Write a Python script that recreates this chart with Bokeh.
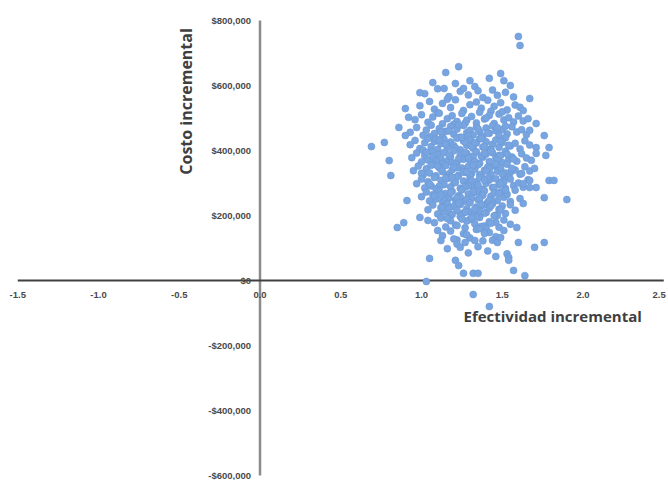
from math import pi
from bokeh.plotting import figure
from bokeh.models import Label
from bokeh.embed import file_html
from bokeh.resources import INLINE

x_ticks = [-1.5, -1.0, -0.5, 0.0, 0.5, 1.0, 1.5, 2.0, 2.5]
x_tick_labels = ["-1.5", "-1.0", "-0.5", "0.0", "0.5", "1.0", "1.5", "2.0", "2.5"]
y_ticks = [-600000, -400000, -200000, 0, 200000, 400000, 600000, 800000]
y_tick_labels = ["-$600,000", "-$400,000", "-$200,000", "$0", "$200,000",
                 "$400,000", "$600,000", "$800,000"]

# incremental effectiveness of the simulations (dense cloud, read band by band)
eff_core = [
    1.02, 1.10, 1.17, 1.24, 1.29, 1.33, 1.38, 1.44, 1.47, 1.52, 1.57, 1.35,
    0.99, 1.05, 1.08, 1.13, 1.18, 1.21, 1.26, 1.30, 1.34, 1.37, 1.41, 1.45, 1.49, 1.53, 1.58, 1.61, 1.16, 1.43,
    0.96, 1.00, 1.04, 1.07, 1.10, 1.13, 1.16, 1.19, 1.22, 1.25, 1.28, 1.31, 1.34, 1.36, 1.39, 1.42, 1.45, 1.48,
    1.51, 1.54, 1.57, 1.60, 1.63, 1.11, 1.27, 1.40, 1.50, 1.20,
    0.93, 0.97, 1.01, 1.03, 1.06, 1.08, 1.11, 1.13, 1.15, 1.18, 1.20, 1.22, 1.24, 1.26, 1.28, 1.30, 1.32, 1.34,
    1.36, 1.38, 1.40, 1.42, 1.44, 1.46, 1.48, 1.50, 1.53, 1.56, 1.59, 1.62, 1.65, 1.05, 1.17, 1.23, 1.29, 1.35,
    1.41, 1.47, 1.52, 1.12,
    0.93, 0.96, 0.99, 1.02, 1.04, 1.06, 1.08, 1.10, 1.12, 1.14, 1.16, 1.18, 1.20, 1.22, 1.24, 1.26, 1.28, 1.30,
    1.32, 1.34, 1.36, 1.38, 1.40, 1.42, 1.44, 1.46, 1.48, 1.50, 1.52, 1.55, 1.58, 1.61, 1.64, 1.67, 1.01, 1.09,
    1.15, 1.21, 1.27, 1.31, 1.37, 1.43, 1.49, 1.54, 1.11, 1.25, 1.39, 1.33,
    0.94, 0.97, 1.00, 1.02, 1.04, 1.06, 1.08, 1.10, 1.12, 1.14, 1.16, 1.18, 1.20, 1.22, 1.24, 1.26, 1.28, 1.30,
    1.32, 1.34, 1.36, 1.38, 1.40, 1.42, 1.44, 1.46, 1.48, 1.50, 1.52, 1.54, 1.56, 1.59, 1.62, 1.65, 1.68, 1.03,
    1.07, 1.13, 1.17, 1.23, 1.27, 1.33, 1.37, 1.43, 1.47, 1.53, 1.19, 1.29, 1.39, 1.09, 1.49, 1.57,
    0.95, 0.98, 1.01, 1.03, 1.05, 1.07, 1.09, 1.11, 1.13, 1.15, 1.17, 1.19, 1.21, 1.23, 1.25, 1.27, 1.29, 1.31,
    1.33, 1.35, 1.37, 1.39, 1.41, 1.43, 1.45, 1.47, 1.49, 1.51, 1.53, 1.55, 1.58, 1.61, 1.64, 1.67, 1.00, 1.06,
    1.12, 1.16, 1.22, 1.26, 1.32, 1.36, 1.42, 1.46, 1.52, 1.20, 1.30, 1.40, 1.10, 1.50, 1.56, 1.28,
    0.97, 1.00, 1.02, 1.04, 1.06, 1.08, 1.10, 1.12, 1.14, 1.16, 1.18, 1.20, 1.22, 1.24, 1.26, 1.28, 1.30, 1.32,
    1.34, 1.36, 1.38, 1.40, 1.42, 1.44, 1.46, 1.48, 1.50, 1.52, 1.54, 1.57, 1.60, 1.63, 1.66, 1.05, 1.11, 1.15,
    1.21, 1.25, 1.31, 1.35, 1.41, 1.45, 1.51, 1.19, 1.29, 1.39, 1.09, 1.49, 1.55, 1.27,
    1.00, 1.03, 1.05, 1.07, 1.09, 1.11, 1.13, 1.15, 1.17, 1.19, 1.21, 1.23, 1.25, 1.27, 1.29, 1.31, 1.33, 1.35,
    1.37, 1.39, 1.41, 1.43, 1.45, 1.47, 1.49, 1.51, 1.53, 1.55, 1.58, 1.61, 1.08, 1.14, 1.18, 1.24, 1.28, 1.34,
    1.38, 1.44, 1.48, 1.22, 1.32, 1.42, 1.12, 1.52, 1.36,
    1.04, 1.07, 1.10, 1.12, 1.14, 1.16, 1.18, 1.20, 1.22, 1.24, 1.26, 1.28, 1.30, 1.32, 1.34, 1.36, 1.38, 1.40,
    1.42, 1.44, 1.46, 1.48, 1.50, 1.52, 1.55, 1.58, 1.13, 1.19, 1.23, 1.29, 1.33, 1.39, 1.43, 1.49, 1.27, 1.37,
    1.17, 1.47,
    1.08, 1.12, 1.15, 1.18, 1.21, 1.24, 1.27, 1.30, 1.33, 1.36, 1.39, 1.42, 1.45, 1.48, 1.51, 1.55, 1.16, 1.22,
    1.28, 1.34, 1.40, 1.46, 1.25, 1.37, 1.31, 1.43,
    1.13, 1.18, 1.22, 1.26, 1.30, 1.34, 1.38, 1.42, 1.46, 1.51, 1.20, 1.28, 1.36, 1.44,
    1.16, 1.22, 1.29, 1.35, 1.41, 1.47, 1.53,
]
# incremental cost, thousands of dollars, same order as eff_core
cost_core_k = [
    575, 590, 566, 582, 571, 597, 563, 586, 570, 579, 565, 584,
    538, 551, 527, 545, 532, 556, 523, 541, 549, 530, 555, 536, 547, 525, 540, 533, 558, 521,
    495, 510, 487, 503, 516, 482, 498, 507, 489, 514, 493, 505, 485, 518, 497, 508, 483, 512,
    494, 501, 488, 506, 491, 515, 484, 500, 519, 481,
    456, 471, 447, 463, 478, 452, 468, 443, 459, 474, 450, 466, 441, 477, 455, 462, 448, 472,
    458, 444, 469, 453, 476, 461, 446, 465, 451, 473, 457, 464, 449, 442, 460, 479, 445, 467,
    454, 470, 475, 458,
    418, 431, 406, 424, 437, 412, 428, 403, 421, 434, 409, 426, 415, 438, 402, 429, 416, 433,
    407, 423, 436, 411, 427, 404, 419, 432, 410, 425, 439, 414, 422, 405, 430, 417, 401, 435,
    420, 408, 426, 413, 437, 403, 429, 416, 431, 440, 411, 424,
    378, 392, 365, 384, 371, 397, 362, 388, 375, 394, 368, 381, 399, 364, 386, 373, 391, 369,
    383, 396, 361, 379, 389, 366, 393, 376, 385, 363, 398, 372, 380, 367, 390, 377, 370, 395,
    382, 360, 387, 374, 394, 366, 383, 398, 371, 389, 362, 377, 392, 368, 385, 374,
    338, 352, 325, 344, 331, 357, 322, 348, 335, 354, 328, 341, 359, 324, 346, 333, 351, 329,
    343, 356, 321, 339, 349, 326, 353, 336, 345, 323, 358, 332, 340, 327, 350, 337, 330, 355,
    342, 320, 347, 334, 354, 326, 343, 358, 331, 349, 322, 337, 352, 328, 345, 334,
    298, 312, 285, 304, 291, 317, 282, 308, 295, 314, 288, 301, 319, 284, 306, 293, 311, 289,
    303, 316, 281, 299, 309, 286, 313, 296, 305, 283, 318, 292, 300, 287, 310, 297, 290, 315,
    302, 280, 307, 294, 314, 286, 303, 318, 291, 309, 282, 297, 312, 288,
    258, 272, 245, 264, 251, 277, 242, 268, 255, 274, 248, 261, 279, 244, 266, 253, 271, 249,
    263, 276, 241, 259, 269, 246, 273, 256, 265, 243, 278, 252, 260, 247, 270, 257, 250, 275,
    262, 240, 267, 254, 274, 246, 263, 278, 251,
    218, 232, 205, 224, 211, 237, 202, 228, 215, 234, 208, 221, 239, 204, 226, 213, 231, 209,
    223, 236, 201, 219, 229, 206, 233, 216, 225, 203, 238, 212, 220, 207, 230, 217, 210, 235,
    222, 200,
    178, 192, 165, 184, 171, 197, 162, 188, 175, 194, 168, 181, 199, 164, 186, 173, 191, 169,
    183, 196, 161, 179, 189, 166, 193, 176,
    138, 152, 125, 144, 131, 157, 122, 148, 135, 154, 128, 141, 159, 124,
    98, 112, 85, 104, 91, 117, 82,
]
# scattered simulations around the cloud
eff_outer = [
    1.60, 1.61, 1.23, 1.15, 1.49, 1.07, 1.51, 1.30, 1.21, 1.14, 1.26, 1.42, 1.55, 0.99, 1.67,
    0.90, 0.92, 0.86, 0.90, 0.69, 0.77, 0.80, 1.63, 1.66, 1.71, 1.76, 1.79, 1.71, 1.67, 0.81,
    0.91, 0.89, 0.85, 0.99, 1.04, 1.05, 1.21, 1.23, 1.26, 1.32, 1.35, 1.03, 1.46, 1.54, 1.54,
    1.57, 1.64, 1.60, 1.70, 1.76, 1.90, 1.76, 1.79, 1.77, 1.10, 1.12, 1.27, 1.24, 1.33, 1.39,
    1.49, 1.59, 1.63, 1.71, 1.63, 1.62, 1.32, 1.42, 1.82, 1.67, 1.70, 1.71, 1.67,
]
cost_outer_k = [
    751, 723, 658, 640, 637, 609, 615, 615, 606, 591, 591, 622, 600, 578, 560,
    529, 502, 471, 446, 412, 425, 369, 523, 498, 483, 446, 409, 409, 462, 323,
    246, 178, 163, 194, 185, 68, 62, 46, 22, 22, 22, -3, 74, 71, 62,
    31, 15, 117, 102, 117, 249, 255, 308, 385, 154, 123, 117, 102, 123, 145,
    132, 163, 237, 286, 298, 329, -43, -80, 308, 286, 345, 391, 308,
]

eff = eff_core + eff_outer
cost = [v * 1000 for v in cost_core_k + cost_outer_k]

# frame = whole canvas; px scale: 161.5 px per unit in x, 3077 $ per px in y
W, H = 668, 480
x0_px, xs = 259.5, 161.5
y0_px, ys = 280.0, 3077.0
p = figure(width=W, height=H,
           x_range=(-x0_px / xs, (W - x0_px) / xs),
           y_range=(-(H - y0_px) * ys, y0_px * ys),
           x_axis_type=None, y_axis_type=None, output_backend="svg",
           toolbar_location=None, min_border_left=0, min_border_right=0,
           min_border_top=0, min_border_bottom=0)
p.outline_line_color = None
p.background_fill_color = "white"
p.border_fill_color = "white"

# axes crossing at the origin
p.segment(x0=[0], y0=[y_ticks[0]], x1=[0], y1=[y_ticks[-1]],
          line_color="#8c8c8c", line_width=2.5)
p.segment(x0=[x_ticks[0]], y0=[0], x1=[x_ticks[-1]], y1=[0],
          line_color="#404040", line_width=2)

p.scatter(eff, cost, size=7, fill_color="#78a5e0", line_color="#6a98d6",
          line_width=0.6)

for i, (t, lab) in enumerate(zip(x_ticks, x_tick_labels)):
    last = i == len(x_ticks) - 1
    p.add_layout(Label(x=t, y=-14 * ys, text=lab,
                       text_align="right" if last else "center",
                       x_offset=2 if last else 0,
                       text_baseline="middle", text_font="Liberation Sans",
                       text_font_size="9.5px", text_font_style="bold",
                       text_color="#4a4a4a"))
for t, lab in zip(y_ticks, y_tick_labels):
    p.add_layout(Label(x=-9 / xs, y=t, text=lab, text_align="right",
                       text_baseline="middle", text_font="Liberation Sans",
                       text_font_size="9.5px", text_font_style="bold",
                       text_color="#4a4a4a"))

p.add_layout(Label(x=-0.46, y=551000, text="Costo incremental", angle=pi / 2,
                   text_align="center", text_baseline="middle",
                   text_font="Open Sans", text_font_size="16px",
                   text_font_style="bold", text_color="#3f3f3f"))
p.add_layout(Label(x=1.26, y=-35 * ys, text="Efectividad incremental",
                   text_align="left", text_baseline="middle",
                   text_font="Open Sans", text_font_size="15px",
                   text_font_style="bold", text_color="#3f3f3f"))

open("out.html", "w").write(file_html(p, INLINE))
